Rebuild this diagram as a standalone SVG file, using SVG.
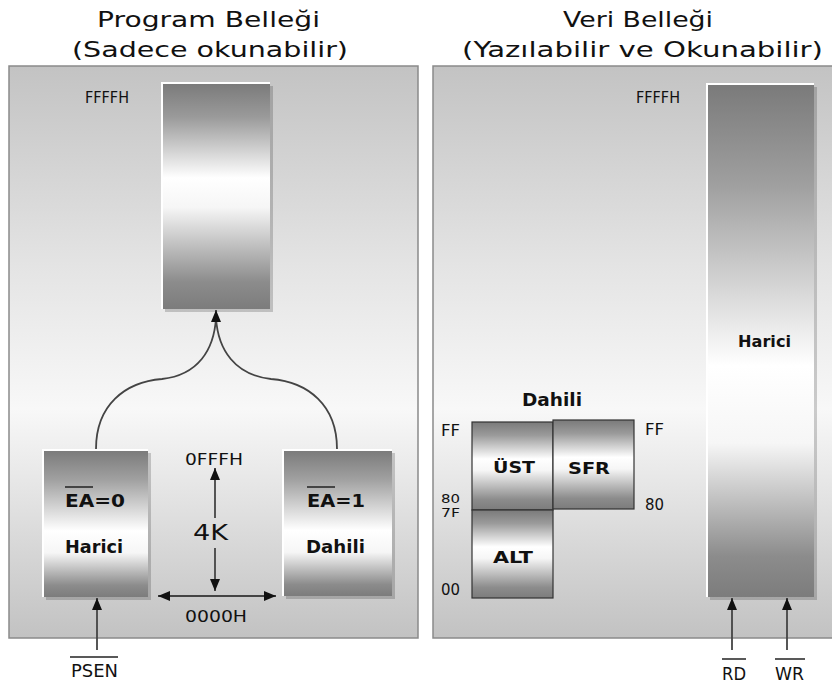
<svg xmlns="http://www.w3.org/2000/svg" width="832" height="686" viewBox="0 0 832 686">
<defs>
<style>
text{font-family:"DejaVu Sans","Verdana",sans-serif;fill:#111}
.title{font-size:22px}
.lbl{font-size:15px}
.b{font-weight:bold;font-size:18px}
.panel{fill:url(#pg);stroke:#8a8a8a;stroke-width:1.5}
.box{fill:url(#bg)}
.box2{fill:url(#bg2)}
.sbox{fill:url(#bg);stroke:#333;stroke-width:1.2}
.shadow{fill:#000;opacity:0.18}
.hl{stroke:#fff;stroke-width:2;fill:none}
.con{fill:none;stroke:#444;stroke-width:1.8}
.ov{stroke:#222;stroke-width:1.5}
</style>
<linearGradient id="pg" x1="0" y1="0" x2="0" y2="1">
<stop offset="0" stop-color="#c3c3c3"/>
<stop offset="0.35" stop-color="#e4e4e4"/>
<stop offset="0.6" stop-color="#f8f8f8"/>
<stop offset="0.85" stop-color="#d6d6d6"/>
<stop offset="1" stop-color="#c2c2c2"/>
</linearGradient>
<linearGradient id="bg" x1="0" y1="0" x2="0" y2="1">
<stop offset="0" stop-color="#7a7a7a"/>
<stop offset="0.15" stop-color="#9a9a9a"/>
<stop offset="0.42" stop-color="#ffffff"/>
<stop offset="0.55" stop-color="#f6f6f6"/>
<stop offset="0.88" stop-color="#8c8c8c"/>
<stop offset="1" stop-color="#7c7c7c"/>
</linearGradient>
<linearGradient id="bg2" x1="0" y1="0" x2="0" y2="1">
<stop offset="0" stop-color="#7a7a7a"/>
<stop offset="0.2" stop-color="#a0a0a0"/>
<stop offset="0.55" stop-color="#ffffff"/>
<stop offset="0.7" stop-color="#f6f6f6"/>
<stop offset="0.92" stop-color="#8c8c8c"/>
<stop offset="1" stop-color="#7c7c7c"/>
</linearGradient>
<marker id="ah" viewBox="0 0 12 10" refX="12" refY="5" markerWidth="12" markerHeight="10" markerUnits="userSpaceOnUse" orient="auto-start-reverse">
<path d="M0,0 L12,5 L0,10 z" fill="#111"/>
</marker>
</defs>

<g id="titles">
<text class="title" x="97" y="27" textLength="223" lengthAdjust="spacingAndGlyphs">Program Belleği</text>
<text class="title" x="72" y="57" textLength="276" lengthAdjust="spacingAndGlyphs">(Sadece okunabilir)</text>
<text class="title" x="563" y="27" textLength="150" lengthAdjust="spacingAndGlyphs">Veri Belleği</text>
<text class="title" x="462" y="57" textLength="361" lengthAdjust="spacingAndGlyphs">(Yazılabilir ve Okunabilir)</text>
</g>

<g id="panel-program">
<rect class="panel" x="9" y="66" width="409" height="572"/>
</g>
<g id="panel-data">
<rect class="panel" x="433" y="66" width="405" height="572"/>
</g>

<g id="program-memory">
<rect class="shadow" x="165" y="86" width="108" height="226"/>
<rect class="box" x="162" y="83" width="108" height="226"/>
<path class="hl" d="M162,309 L162,83 L270,83"/>
<text class="lbl" x="85" y="103" textLength="44" lengthAdjust="spacingAndGlyphs">FFFFH</text>
</g>

<g id="ea0">
<rect class="shadow" x="46" y="453" width="105" height="147"/>
<rect class="box2" x="43" y="450" width="105" height="147"/>
<path class="hl" d="M43,597 L43,450 L148,450"/>
<text class="b" x="65" y="507" textLength="60" lengthAdjust="spacingAndGlyphs">EA=0</text>
<line class="ov" x1="65" y1="487" x2="93" y2="487"/>
<text class="b" x="65" y="553" textLength="58" lengthAdjust="spacingAndGlyphs">Harici</text>
</g>

<g id="ea1">
<rect class="shadow" x="286" y="453" width="109" height="146"/>
<rect class="box2" x="283" y="450" width="109" height="146"/>
<path class="hl" d="M283,596 L283,450 L392,450"/>
<text class="b" x="307" y="507" textLength="58" lengthAdjust="spacingAndGlyphs">EA=1</text>
<line class="ov" x1="307" y1="487" x2="335" y2="487"/>
<text class="b" x="306" y="553" textLength="59" lengthAdjust="spacingAndGlyphs">Dahili</text>
</g>

<g id="range-labels">
<text class="lbl" x="185" y="465" textLength="58" lengthAdjust="spacingAndGlyphs" style="font-size:16px">0FFFH</text>
<text style="font-size:21px" x="193" y="540" textLength="35" lengthAdjust="spacingAndGlyphs">4K</text>
<text class="lbl" x="185" y="622" textLength="62" lengthAdjust="spacingAndGlyphs" style="font-size:16px">0000H</text>
</g>

<g id="harici-bar">
<rect class="shadow" x="710" y="87" width="107" height="513"/>
<rect class="box2" x="707" y="84" width="107" height="513"/>
<path class="hl" d="M707,597 L707,84 L814,84"/>
<text class="lbl" x="636" y="103" textLength="44" lengthAdjust="spacingAndGlyphs">FFFFH</text>
<text class="b" x="738" y="347" textLength="53" lengthAdjust="spacingAndGlyphs" style="font-size:16px">Harici</text>
</g>

<g id="dahili-ram">
<text class="b" x="522" y="406" textLength="60" lengthAdjust="spacingAndGlyphs" style="font-size:17px">Dahili</text>
</g>
<g id="ust">
<rect class="sbox" x="472" y="422" width="81" height="88"/>
<text class="b" x="493" y="473" textLength="42" lengthAdjust="spacingAndGlyphs" style="font-size:16px">ÜST</text>
</g>
<g id="sfr">
<rect class="sbox" x="553" y="420" width="81" height="89"/>
<text class="b" x="568" y="474" textLength="42" lengthAdjust="spacingAndGlyphs" style="font-size:16px">SFR</text>
</g>
<g id="alt">
<rect class="sbox" x="472" y="510" width="81" height="88"/>
<text class="b" x="493" y="563" textLength="40" lengthAdjust="spacingAndGlyphs" style="font-size:16px">ALT</text>
</g>
<g id="addr-labels">
<text class="lbl" x="441" y="436" textLength="19" lengthAdjust="spacingAndGlyphs">FF</text>
<text class="lbl" x="441" y="503" textLength="19" lengthAdjust="spacingAndGlyphs" style="font-size:13px">80</text>
<text class="lbl" x="441" y="517" textLength="19" lengthAdjust="spacingAndGlyphs" style="font-size:13px">7F</text>
<text class="lbl" x="441" y="595" textLength="19" lengthAdjust="spacingAndGlyphs">00</text>
<text class="lbl" x="645" y="435" textLength="19" lengthAdjust="spacingAndGlyphs">FF</text>
<text class="lbl" x="645" y="510" textLength="19" lengthAdjust="spacingAndGlyphs">80</text>
</g>

<g id="signals">
<text class="lbl" x="71" y="677" textLength="47" lengthAdjust="spacingAndGlyphs" style="font-size:17px">PSEN</text>
<line class="ov" x1="70" y1="657" x2="118" y2="657"/>
<text class="lbl" x="722" y="680" textLength="24" lengthAdjust="spacingAndGlyphs" style="font-size:17px">RD</text>
<line class="ov" x1="722" y1="659" x2="746" y2="659"/>
<text class="lbl" x="775" y="680" textLength="29" lengthAdjust="spacingAndGlyphs" style="font-size:17px">WR</text>
<line class="ov" x1="775" y1="659" x2="805" y2="659"/>
</g>

<g id="connectors">
<path class="con" d="M96,449 C96,405 125,382 162,379 C198,375 214,350 216,318"/>
<path class="con" d="M337,449 C337,405 308,382 271,379 C235,375 218,350 216,318"/>
<path class="con" d="M216,322 L216,310" marker-end="url(#ah)"/>
<path class="con" d="M215,518 L215,468" marker-end="url(#ah)"/>
<path class="con" d="M215,548 L215,591" marker-end="url(#ah)"/>
<path class="con" d="M158,596 L276,596" marker-start="url(#ah)" marker-end="url(#ah)"/>
<path class="con" d="M97,650 L97,598" marker-end="url(#ah)"/>
<path class="con" d="M732,650 L732,598" marker-end="url(#ah)"/>
<path class="con" d="M787,650 L787,598" marker-end="url(#ah)"/>
</g>
</svg>
